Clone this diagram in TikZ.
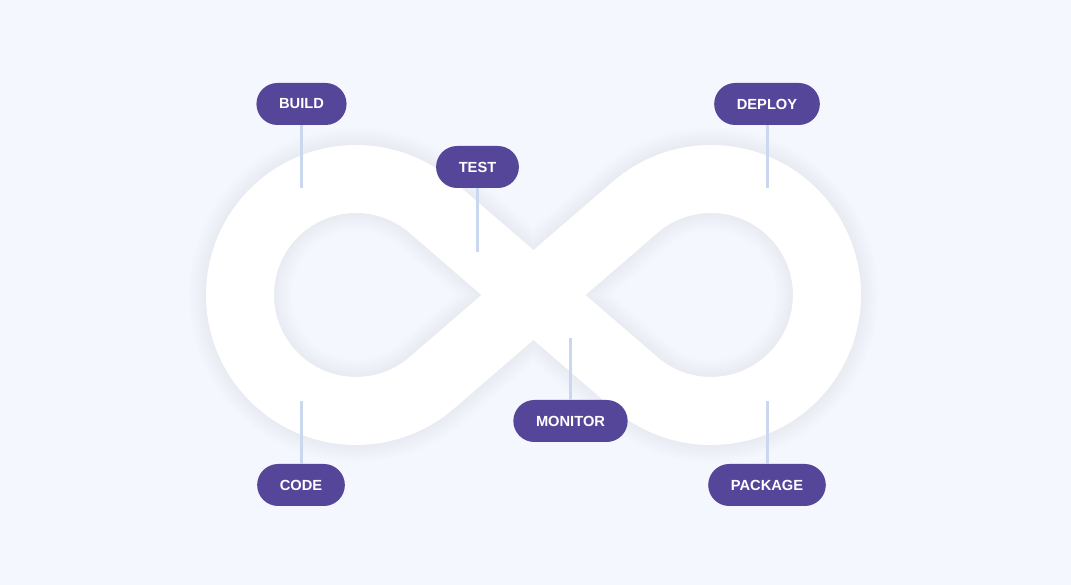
\documentclass[tikz,border=0pt]{standalone}
\usepackage{fontspec}
\setsansfont{Liberation Sans}
\usetikzlibrary{calc}
\usetikzlibrary{positioning}
\definecolor{bgc}{HTML}{F4F7FD}
\definecolor{pillc}{HTML}{56469A}
\definecolor{stemc}{HTML}{C9D8EE}
\tikzset{
  x=0.75pt, y=0.75pt,
  pill/.style={
    fill=pillc, text=white, rounded corners=15.75pt,
    minimum height=31.5pt, inner xsep=17pt, inner ysep=0pt,
    font=\sffamily\bfseries\fontsize{11}{12}\selectfont
  },
  stem/.style={draw=stemc, line width=2.25pt},
  band/.style={draw=white, line width=51pt, line join=round}
}
% centre line of the loop
\newcommand{\loopline}{
  (mid) -- ($(rc)+(130.8:116)$) arc[start angle=130.8, end angle=-130.8, radius=116]
  -- (mid) -- ($(lc)+(49.2:116)$) arc[start angle=49.2, end angle=310.8, radius=116] -- cycle
}
\begin{document}
\begin{tikzpicture}
  \useasboundingbox[fill=bgc] (0,0) rectangle (1071,585);
  \coordinate (lc) at (356,290);
  \coordinate (rc) at (711,290);
  \coordinate (mid) at (533.5,290);
  % soft shadow
  \foreach \w in {1,...,12}
    \draw[line width=51pt+\w*2.2pt, draw=black, draw opacity=0.005, line join=round]
      \loopline;
  \draw[band] \loopline;

  \node[pill] (build) at (301.5,481) {BUILD};
  \node[pill] (test) at (477.5,418) {TEST};
  \node[pill] (deploy) at (767,481) {DEPLOY};
  \node[pill] (monitor) at (570.5,164) {MONITOR};
  \node[pill] (code) at (301,100) {CODE};
  \node[pill] (package) at (767,100) {PACKAGE};

  \coordinate (build end) at (301.5,397);
  \coordinate (test end) at (477.5,333);
  \coordinate (deploy end) at (767,397);
  \coordinate (monitor end) at (570.5,247);
  \coordinate (code end) at (301,184);
  \coordinate (package end) at (767,184);

  \draw[stem] (build.south) -- (build end);
  \draw[stem] (test.south) -- (test end);
  \draw[stem] (deploy.south) -- (deploy end);
  \draw[stem] (monitor.north) -- (monitor end);
  \draw[stem] (code.north) -- (code end);
  \draw[stem] (package.north) -- (package end);
\end{tikzpicture}
\end{document}
